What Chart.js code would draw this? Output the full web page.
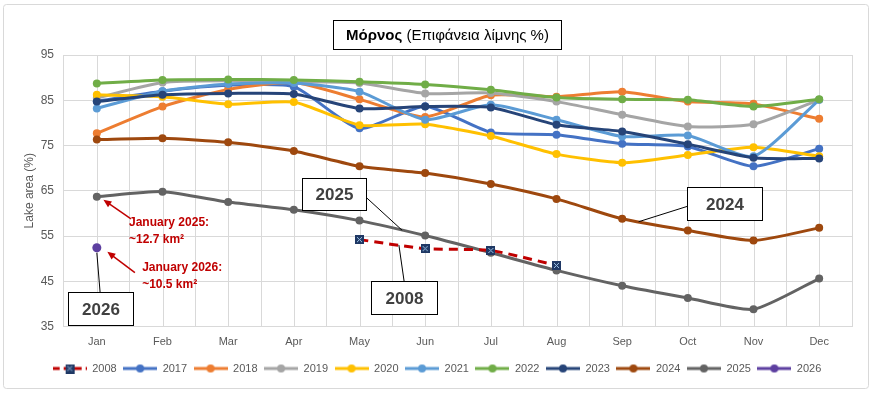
<!DOCTYPE html>
<html>
<head>
<meta charset="utf-8">
<script src="https://cdn.jsdelivr.net/npm/chart.js@4.4.1/dist/chart.umd.min.js"></script>
<style>
  html, body { margin: 0; padding: 0; background: #fff; }
  #wrap { width: 872px; height: 393px; }
</style>
</head>
<body>
<div id="wrap"><canvas id="chart" width="872" height="393"></canvas></div>
<script>
// Mornos lake surface (%) per month and year
const months = ['Jan', 'Feb', 'Mar', 'Apr', 'May', 'Jun', 'Jul', 'Aug', 'Sep', 'Oct', 'Nov', 'Dec'];
const yTicks = [35, 45, 55, 65, 75, 85, 95];

const y2008 = [null, null, null, null, 54.2, 52.2, 51.8, 48.5, null, null, null, null];
const y2017 = [84.8, 87.0, 88.3, 88.0, 78.8, 83.7, 77.9, 77.4, 75.4, 74.8, 70.4, 74.3];
const y2018 = [77.7, 83.6, 87.4, 88.9, 85.2, 81.3, 86.1, 85.8, 86.9, 84.7, 84.2, 80.9];
const y2019 = [85.5, 88.9, 89.3, 89.1, 88.8, 86.5, 86.6, 84.7, 81.8, 79.2, 79.7, 85.1];
const y2020 = [86.2, 85.8, 84.1, 84.6, 79.5, 79.7, 77.1, 73.1, 71.2, 72.9, 74.6, 72.6];
const y2021 = [83.2, 87.0, 88.6, 88.8, 86.9, 80.7, 84.0, 80.7, 77.0, 77.2, 72.6, 85.1];
const y2022 = [88.7, 89.5, 89.6, 89.5, 89.1, 88.5, 87.3, 85.6, 85.2, 85.1, 83.6, 85.2];
const y2023 = [84.7, 86.2, 86.5, 86.4, 83.2, 83.6, 83.4, 79.6, 78.1, 75.3, 72.3, 72.1];
const y2024 = [76.3, 76.6, 75.7, 73.8, 70.4, 68.9, 66.5, 63.2, 58.8, 56.2, 54.0, 56.8];
const y2025 = [63.7, 64.8, 62.5, 60.8, 58.4, 55.1, 51.3, 47.4, 44.0, 41.3, 38.8, 45.6];
const y2026 = [52.4, null, null, null, null, null, null, null, null, null, null, null];

const seriesLabels = ['2008', '2017', '2018', '2019', '2020', '2021', '2022', '2023', '2024', '2025', '2026'];
const seriesData = [y2008, y2017, y2018, y2019, y2020, y2021, y2022, y2023, y2024, y2025, y2026];
const seriesColors = ['#c00000', '#4472c4', '#ed7d31', '#a5a5a5', '#ffc000', '#5b9bd5',
                      '#70ad47', '#264478', '#9e480e', '#636363', '#5d3fa0'];

const GRID = '#d9d9d9';
const TXT = '#595959';
const FONT = '"Liberation Sans", Arial, sans-serif';

// square marker with a cross, used for the 2008 series
function makeSquareMarker() {
    const c = document.createElement('canvas');
    c.width = 9; c.height = 9;
    const g = c.getContext('2d');
    g.fillStyle = '#1f3864';
    g.fillRect(0, 0, 9, 9);
    g.strokeStyle = '#9dc3e6';
    g.lineWidth = 1;
    g.beginPath();
    g.moveTo(2, 2); g.lineTo(7, 7);
    g.moveTo(7, 2); g.lineTo(2, 7);
    g.stroke();
    return c;
}
const squareMarker = makeSquareMarker();

// legend icon: short line with a marker in the middle
function makeLegendIcon(color, dashed) {
    const c = document.createElement('canvas');
    c.width = 34; c.height = 10;
    const g = c.getContext('2d');
    g.strokeStyle = color;
    g.lineWidth = 3;
    if (dashed) g.setLineDash([7, 4]);
    g.beginPath();
    g.moveTo(0, 5); g.lineTo(34, 5);
    g.stroke();
    if (dashed) {
        g.drawImage(squareMarker, 12.5, 0.5);
    } else {
        g.fillStyle = color;
        g.beginPath();
        g.arc(17, 5, 4, 0, Math.PI * 2);
        g.fill();
    }
    return c;
}

const datasets = seriesLabels.map((label, i) => {
    const color = seriesColors[i];
    const is2008 = label === '2008';
    return {
        label: label,
        data: seriesData[i],
        borderColor: color,
        backgroundColor: color,
        borderWidth: 3,
        borderDash: is2008 ? [9, 6] : [],
        pointStyle: is2008 ? squareMarker : 'circle',
        pointRadius: label === '2026' ? 4.5 : 4,
        pointBackgroundColor: color,
        pointBorderColor: color,
        pointBorderWidth: 0,
        tension: 0.2,
        fill: false,
        order: is2008 ? 0 : seriesLabels.length - i
    };
});
const legendIcons = seriesLabels.map((label, i) => makeLegendIcon(seriesColors[i], label === '2008'));

// linear value between two months of a series
function between(arr, i, f) {
    return arr[i] + (arr[i + 1] - arr[i]) * f;
}

// boxed year labels: box centre in data coords, leader line to a data point
const yearBoxes = [
    { text: '2025', cx: 3.61, cy: 64.3, w: 64, h: 32, side: 'right', to: [4.65, between(y2025, 4, 0.65)] },
    { text: '2008', cx: 4.68, cy: 41.5, w: 66, h: 33, side: 'top', to: [4.6, between(y2008, 4, 0.6)] },
    { text: '2024', cx: 9.56, cy: 62.1, w: 75, h: 33, side: 'left', to: [8.25, between(y2024, 8, 0.25)] },
    { text: '2026', cx: 0.05, cy: 38.9, w: 65, h: 33, side: 'top', to: [0, y2026[0]] }
];
// red notes with arrows pointing at January values
const notes = [
    { lines: ['January 2025:', '~12.7 km\u00b2'], x: 0.49, y: 58.0, from: [0.52, 58.8], tip: [0.1, 63.0] },
    { lines: ['January 2026:', '~10.5 km\u00b2'], x: 0.69, y: 48.0, from: [0.58, 46.9], tip: [0.16, 51.5] }
];

const framePlugin = {
    id: 'frame',
    beforeDraw(chart) {
        const ctx = chart.ctx;
        ctx.save();
        ctx.fillStyle = '#fff';
        ctx.fillRect(0, 0, chart.width, chart.height);
        ctx.strokeStyle = GRID;
        ctx.lineWidth = 1;
        ctx.beginPath();
        ctx.roundRect(3.5, 4.5, 865, 384, 3);
        ctx.stroke();
        ctx.restore();
    },
    beforeDatasetsDraw(chart) {
        // gridlines through the category centres (Excel shows both)
        const ctx = chart.ctx;
        const xs = chart.scales.x;
        const area = chart.chartArea;
        ctx.save();
        ctx.strokeStyle = GRID;
        ctx.lineWidth = 1;
        ctx.beginPath();
        months.forEach((m, i) => {
            const px = Math.round(xs.getPixelForValue(i)) + 0.5;
            ctx.moveTo(px, area.top);
            ctx.lineTo(px, area.bottom);
        });
        ctx.stroke();
        ctx.restore();
    },
    afterDatasetsDraw(chart) {
        const ctx = chart.ctx;
        const xs = chart.scales.x;
        const ys = chart.scales.y;
        const X = v => xs.getPixelForValue(v);
        const Y = v => ys.getPixelForValue(v);
        ctx.save();

        // year boxes
        yearBoxes.forEach(b => {
            const cx = X(b.cx), cy = Y(b.cy);
            const left = Math.round(cx - b.w / 2) + 0.5;
            const top = Math.round(cy - b.h / 2) + 0.5;
            let sx, sy;
            if (b.side === 'right') { sx = left + b.w; sy = top + b.h * 0.6; }
            else if (b.side === 'left') { sx = left; sy = top + b.h * 0.57; }
            else { sx = cx; sy = top; }
            ctx.strokeStyle = '#000';
            ctx.lineWidth = 1;
            ctx.beginPath();
            ctx.moveTo(sx, sy);
            ctx.lineTo(X(b.to[0]), Y(b.to[1]) + (b.text === '2026' ? 5 : 0));
            ctx.stroke();
            ctx.fillStyle = '#fff';
            ctx.fillRect(left, top, b.w, b.h);
            ctx.strokeRect(left, top, b.w, b.h);
            ctx.fillStyle = '#404040';
            ctx.font = 'bold 17px ' + FONT;
            ctx.textAlign = 'center';
            ctx.textBaseline = 'middle';
            ctx.fillText(b.text, left + b.w / 2, top + b.h / 2 + 1);
        });

        // red notes and arrows
        notes.forEach(n => {
            const x0 = X(n.from[0]), y0 = Y(n.from[1]);
            const x1 = X(n.tip[0]), y1 = Y(n.tip[1]);
            const ang = Math.atan2(y1 - y0, x1 - x0);
            ctx.strokeStyle = '#c00000';
            ctx.fillStyle = '#c00000';
            ctx.lineWidth = 1.5;
            ctx.beginPath();
            ctx.moveTo(x0, y0);
            ctx.lineTo(x1 - 5 * Math.cos(ang), y1 - 5 * Math.sin(ang));
            ctx.stroke();
            ctx.beginPath();
            ctx.moveTo(x1, y1);
            ctx.lineTo(x1 - 8 * Math.cos(ang) + 3.5 * Math.sin(ang), y1 - 8 * Math.sin(ang) - 3.5 * Math.cos(ang));
            ctx.lineTo(x1 - 8 * Math.cos(ang) - 3.5 * Math.sin(ang), y1 - 8 * Math.sin(ang) + 3.5 * Math.cos(ang));
            ctx.closePath();
            ctx.fill();
            ctx.font = 'bold 12px ' + FONT;
            ctx.textAlign = 'left';
            ctx.textBaseline = 'middle';
            n.lines.forEach((t, k) => ctx.fillText(t, X(n.x), Y(n.y) + k * 17));
        });

        ctx.restore();
    },
    afterDraw(chart) {
        // title box with bold lake name
        const ctx = chart.ctx;
        ctx.save();
        ctx.fillStyle = '#fff';
        ctx.strokeStyle = '#000';
        ctx.lineWidth = 1;
        ctx.fillRect(333.5, 20.5, 228, 29);
        ctx.strokeRect(333.5, 20.5, 228, 29);
        const boldPart = 'Μόρνος';
        const restPart = ' (Επιφάνεια λίμνης %)';
        ctx.font = 'bold 15px ' + FONT;
        const w1 = ctx.measureText(boldPart).width;
        ctx.font = '15px ' + FONT;
        const w2 = ctx.measureText(restPart).width;
        let tx = 447.5 - (w1 + w2) / 2;
        ctx.textBaseline = 'middle';
        ctx.textAlign = 'left';
        ctx.fillStyle = '#000';
        ctx.font = 'bold 15px ' + FONT;
        ctx.fillText(boldPart, tx, 35.5);
        ctx.font = '15px ' + FONT;
        ctx.fillText(restPart, tx + w1, 35.5);
        ctx.restore();
    }
};

const ctx = document.getElementById('chart').getContext('2d');
new Chart(ctx, {
    type: 'line',
    data: { labels: months, datasets: datasets },
    options: {
        responsive: false,
        animation: false,
        devicePixelRatio: 1,
        layout: { padding: { top: 55, left: 22, right: 20, bottom: 9 } },
        plugins: {
            title: { display: false },
            tooltip: { enabled: false },
            legend: {
                position: 'bottom',
                labels: {
                    usePointStyle: true,
                    pointStyleWidth: 34,
                    padding: 6.5,
                    color: TXT,
                    font: { family: FONT, size: 11 },
                    generateLabels(chart) {
                        return chart.data.datasets.map((ds, i) => ({
                            text: ds.label,
                            pointStyle: legendIcons[i],
                            fillStyle: ds.borderColor,
                            strokeStyle: ds.borderColor,
                            lineWidth: 0,
                            fontColor: TXT,
                            hidden: !chart.isDatasetVisible(i),
                            datasetIndex: i
                        }));
                    }
                }
            }
        },
        scales: {
            x: {
                type: 'category',
                offset: true,
                afterFit(scale) { scale.height = 30; },
                grid: { color: GRID, offset: true, drawTicks: false },
                border: { display: false },
                ticks: { color: TXT, font: { family: FONT, size: 11 }, padding: 9, maxRotation: 0, autoSkip: false }
            },
            y: {
                min: 35,
                max: 95,
                afterBuildTicks(scale) {
                    scale.ticks = yTicks.map(v => ({ value: v }));
                },
                afterFit(scale) { scale.width = 42; },
                grid: { color: GRID, drawTicks: false },
                border: { display: false },
                ticks: { color: TXT, font: { family: FONT, size: 12 }, padding: 10 },
                title: {
                    display: true,
                    text: 'Lake area (%)',
                    color: TXT,
                    font: { family: FONT, size: 12 },
                    padding: { top: 0, bottom: 0 }
                }
            }
        }
    },
    plugins: [framePlugin]
});
</script>
</body>
</html>
